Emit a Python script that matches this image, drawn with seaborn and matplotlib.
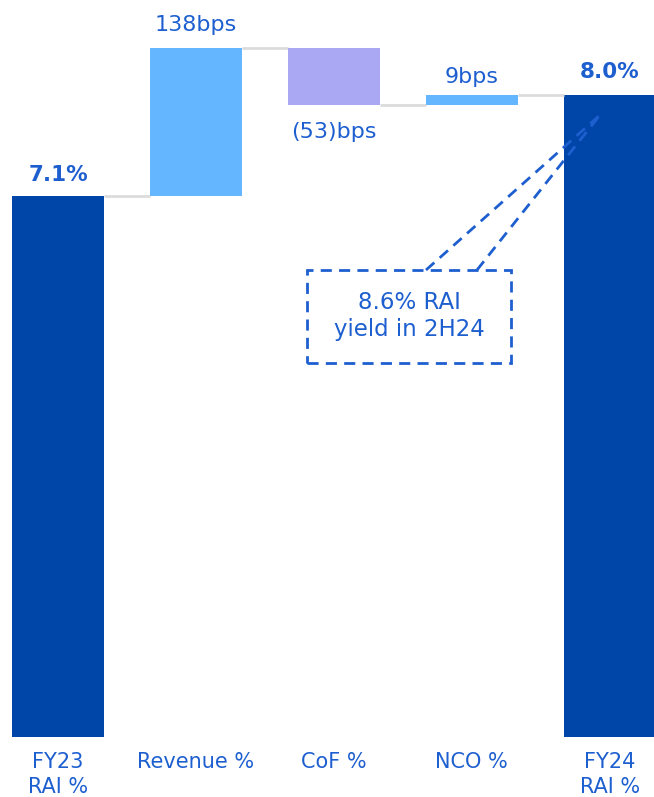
import matplotlib
matplotlib.use("Agg")
import matplotlib.pyplot as plt
import seaborn as sns
import pandas as pd
from matplotlib.patches import Rectangle
from matplotlib.lines import Line2D

# Risk-adjusted income yield bridge, FY23 -> FY24
categories = ["FY23\nRAI %", "Revenue %", "CoF %", "NCO %", "FY24\nRAI %"]
start_value = 7.1          # FY23 RAI %
deltas_bps = [138, -53, 9]  # Revenue, CoF, NCO movements in bps
end_value = 8.04           # FY24 RAI % (shown rounded)
value_labels = ["7.1%", "138bps", "(53)bps", "9bps", "8.0%"]
callout_text = "8.6% RAI\nyield in 2H24"

TOTAL_COLOR = "#0046a9"
UP_COLOR = "#64b6ff"
DOWN_COLOR = "#aba8f3"
TEXT_COLOR = "#1e5fd0"
CONNECT_COLOR = "#dcdcdc"

sns.set_theme(style="white")
plt.rcParams["font.family"] = ["DejaVu Sans"]

W, H = 654, 797
fig = plt.figure(figsize=(W / 100, H / 100), dpi=100)
ax = fig.add_axes([0, (H - 737) / H, 1, 737 / H])

# Totals drawn with seaborn (bars start at zero, axis is cropped above)
totals = pd.DataFrame({
    "cat": categories,
    "val": [start_value, 0, 0, 0, end_value],
})
sns.barplot(data=totals, x="cat", y="val", order=categories,
            color=TOTAL_COLOR, width=0.667, saturation=1, linewidth=0, ax=ax)

# Floating step bars
running = start_value
levels = [start_value]
for i, d in enumerate(deltas_bps, start=1):
    change = d / 100.0
    bottom = running if change >= 0 else running + change
    color = UP_COLOR if change >= 0 else DOWN_COLOR
    ax.bar(i, abs(change), bottom=bottom, width=0.667, color=color,
           linewidth=0, zorder=2)
    running += change
    levels.append(running)
levels.append(end_value)

# Connector lines between adjacent bars
half = 0.667 / 2
for i in range(4):
    lvl = levels[i]
    ax.plot([i + half, i + 1 - half], [lvl, lvl], color=CONNECT_COLOR,
            lw=2, solid_capstyle="butt", zorder=1)

# Value labels
fs = 16
fsb = 15.5
ax.text(0, start_value + 0.1, value_labels[0], ha="center", va="bottom",
        fontsize=fsb, fontweight="bold", color=TEXT_COLOR)
ax.text(1, levels[1] + 0.12, value_labels[1], ha="center", va="bottom",
        fontsize=fs, color=TEXT_COLOR)
ax.text(2, levels[2] - 0.16, value_labels[2], ha="center", va="top",
        fontsize=fs, color=TEXT_COLOR)
ax.text(3, levels[3] + 0.08, value_labels[3], ha="center", va="bottom",
        fontsize=fs, color=TEXT_COLOR)
ax.text(4, end_value + 0.12, value_labels[4], ha="center", va="bottom",
        fontsize=fsb, fontweight="bold", color=TEXT_COLOR)

ax.set_xlim(-0.42, 4.32)
ax.set_ylim(2.05, 8.93)
ax.set_xlabel("")
ax.set_ylabel("")
ax.set_yticks([])
ax.tick_params(axis="x", length=0, pad=11, labelsize=15, labelcolor=TEXT_COLOR)
for lbl in ax.get_xticklabels():
    lbl.set_linespacing(1.3)
for s in ax.spines.values():
    s.set_visible(False)
ax.patch.set_alpha(0)


def fpt(x, y):
    return x / W, 1 - y / H


# Dashed callout box with pointer into the FY24 bar
dash = (0, (4, 2.6))
bx0, by0 = fpt(307, 363)
bx1, by1 = fpt(511, 270)
fig.patches.append(Rectangle((bx0, by0), bx1 - bx0, by1 - by0,
                             transform=fig.transFigure, fill=False,
                             edgecolor=TEXT_COLOR, lw=2, linestyle=dash,
                             zorder=5))
tip = fpt(600, 115)
for sx in (426, 477):
    p = fpt(sx, 270)
    fig.lines.append(Line2D([p[0], tip[0]], [p[1], tip[1]],
                            transform=fig.transFigure, color=TEXT_COLOR,
                            lw=2, linestyle=dash, zorder=5))
cx, cy = fpt(409, 316)
fig.text(cx, cy, callout_text, ha="center", va="center", fontsize=16.5,
         color=TEXT_COLOR, linespacing=1.2)

fig.savefig("out.png", dpi=100)
